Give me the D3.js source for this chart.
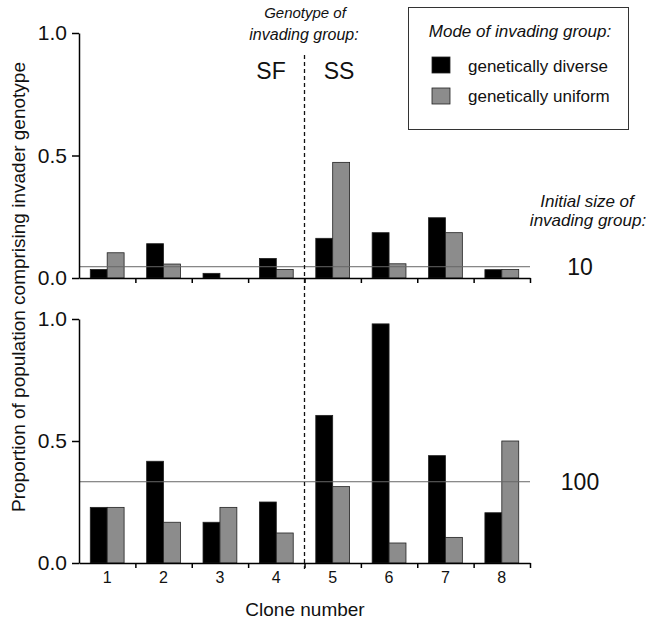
<!DOCTYPE html>
<html>
<head>
<meta charset="utf-8">
<script src="https://cdn.jsdelivr.net/npm/d3@7"></script>
<style>
  body { margin: 0; background: #fff; }
  svg text { font-family: "Liberation Sans", Arial, sans-serif; fill: #111; }
</style>
</head>
<body>
<div id="chart"></div>
<script>
// clone numbers and the two invading modes
const clones = [1, 2, 3, 4, 5, 6, 7, 8];
const modes = ["genetically diverse", "genetically uniform"];
const modeColors = ["#000000", "#8c8c8c"];

// proportions for initial group size 10 (top) and 100 (bottom)
const diverse10 = [0.035, 0.14, 0.019, 0.08, 0.162, 0.185, 0.246, 0.034];
const uniform10 = [0.103, 0.057, 0, 0.035, 0.472, 0.058, 0.185, 0.035];
const diverse100 = [0.228, 0.417, 0.167, 0.25, 0.605, 0.98, 0.44, 0.206];
const uniform100 = [0.228, 0.167, 0.228, 0.123, 0.313, 0.082, 0.105, 0.5];

// expected proportion (horizontal reference line) per panel
const groupSizes = ["10", "100"];
const expected = [0.046, 0.333];
const yTicks = [0, 0.5, 1.0];

const width = 646, height = 623;
const left = 79, right = 530;

const svg = d3.select("#chart").append("svg")
  .attr("width", width)
  .attr("height", height);

// Create the X band scale (clones) and the inner scale (modes)
const x = d3.scaleBand().domain(clones).range([left, right]).padding(0);
const bw = x.bandwidth();
const x1 = d3.scaleBand().domain(modes).range([bw * 0.2, bw * 0.8]).padding(0);
const xEdge = d3.scaleLinear().domain([0, clones.length]).range([left, right]);

const panels = [
  { top: 33, bottom: 278, diverse: diverse10, uniform: uniform10, ref: expected[0], label: groupSizes[0], labels: false },
  { top: 319, bottom: 563, diverse: diverse100, uniform: uniform100, ref: expected[1], label: groupSizes[1], labels: true }
];

panels.forEach(p => {
  const y = d3.scaleLinear().domain([0, 1]).range([p.bottom, p.top]);
  const g = svg.append("g");

  const rows = clones.map((c, i) => ({ clone: c, values: [p.diverse[i], p.uniform[i]] }));

  // Create and fill the bars
  g.selectAll("g.grp")
    .data(rows)
    .enter()
    .append("g")
    .attr("transform", d => "translate(" + x(d.clone) + ",0)")
    .selectAll("rect")
    .data(d => d.values.map((v, j) => ({ mode: modes[j], value: v, color: modeColors[j] })))
    .enter()
    .filter(d => d.value > 0)
    .append("rect")
    .attr("x", d => x1(d.mode))
    .attr("y", d => y(d.value))
    .attr("width", x1.bandwidth())
    .attr("height", d => y(0) - y(d.value))
    .attr("fill", d => d.color)
    .attr("stroke", "#222")
    .attr("stroke-width", 0.8);

  // expected proportion line
  g.append("line")
    .attr("x1", left).attr("x2", right)
    .attr("y1", y(p.ref)).attr("y2", y(p.ref))
    .attr("stroke", "#666")
    .attr("stroke-width", 1);

  // Draw the Y-axis
  const yAxis = g.append("g")
    .attr("transform", "translate(" + left + ",0)")
    .call(d3.axisLeft(y).tickValues(yTicks).tickFormat(d3.format(".1f")).tickSize(7).tickSizeOuter(0).tickPadding(5));
  yAxis.select(".domain").attr("stroke-width", 1.5);
  yAxis.selectAll(".tick line").attr("stroke-width", 1.5);
  yAxis.selectAll("text").style("font-size", "21px").attr("fill", "#111");

  // Draw the X-axis with ticks on the clone boundaries
  const xAxis = g.append("g")
    .attr("transform", "translate(0," + p.bottom + ")")
    .call(d3.axisBottom(xEdge).tickValues(d3.range(1, clones.length + 1)).tickFormat("").tickSize(5).tickSizeOuter(0));
  xAxis.select(".domain").attr("stroke-width", 1.5);
  xAxis.selectAll(".tick line").attr("stroke-width", 1.5);

  if (p.labels) {
    const lab = g.append("g")
      .attr("transform", "translate(0," + p.bottom + ")")
      .call(d3.axisBottom(x).tickSize(0).tickPadding(9));
    lab.select(".domain").remove();
    lab.selectAll("text").style("font-size", "16px").attr("fill", "#111");
  }

  // group size label on the right
  svg.append("text")
    .attr("x", 580).attr("y", y(p.ref) + 8)
    .attr("text-anchor", "middle")
    .style("font-size", "23px")
    .text(p.label);
});

// dashed divider between SF and SS genotypes
svg.append("line")
  .attr("x1", xEdge(4)).attr("x2", xEdge(4))
  .attr("y1", 55).attr("y2", 569)
  .attr("stroke", "#111")
  .attr("stroke-width", 1.3)
  .attr("stroke-dasharray", "4,3");

svg.append("text").attr("x", 305).attr("y", 18).attr("text-anchor", "middle")
  .style("font-size", "15px").style("font-style", "italic").text("Genotype of");
svg.append("text").attr("x", 304).attr("y", 40).attr("text-anchor", "middle")
  .style("font-size", "16px").style("font-style", "italic").text("invading group:");
svg.append("text").attr("x", 271).attr("y", 79).attr("text-anchor", "middle")
  .style("font-size", "23px").text("SF");
svg.append("text").attr("x", 339).attr("y", 79).attr("text-anchor", "middle")
  .style("font-size", "23px").text("SS");

svg.append("text").attr("x", 587).attr("y", 207).attr("text-anchor", "middle")
  .style("font-size", "17px").style("font-style", "italic").text("Initial size of");
svg.append("text").attr("x", 588).attr("y", 226).attr("text-anchor", "middle")
  .style("font-size", "17px").style("font-style", "italic").text("invading group:");

// legend
const legend = svg.append("g");
legend.append("rect")
  .attr("x", 408.5).attr("y", 7.5).attr("width", 220).attr("height", 122)
  .attr("fill", "none").attr("stroke", "#333").attr("stroke-width", 1);
legend.append("text").attr("x", 520).attr("y", 37).attr("text-anchor", "middle")
  .style("font-size", "17px").style("font-style", "italic").text("Mode of invading group:");
modes.forEach((m, i) => {
  legend.append("rect")
    .attr("x", 432).attr("y", 57 + i * 31).attr("width", 18).attr("height", 16)
    .attr("fill", modeColors[i]).attr("stroke", "#222").attr("stroke-width", 0.8);
  legend.append("text")
    .attr("x", 468).attr("y", 72 + i * 30)
    .style("font-size", "17px")
    .text(m);
});

// axis titles
svg.append("text")
  .attr("transform", "translate(25,287) rotate(-90)")
  .attr("text-anchor", "middle")
  .style("font-size", "19px")
  .text("Proportion of population comprising invader genotype");
svg.append("text").attr("x", 305).attr("y", 616).attr("text-anchor", "middle")
  .style("font-size", "19px").text("Clone number");
</script>
</body>
</html>
